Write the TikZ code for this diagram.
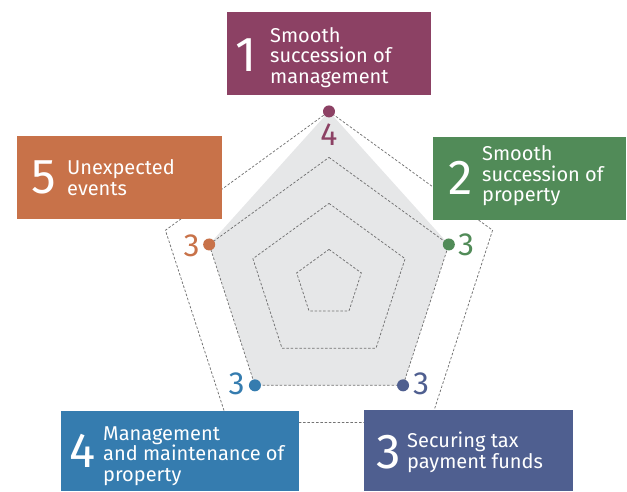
\documentclass[tikz,border=0pt]{standalone}
\usepackage{fontspec}
\setmainfont{Fira Sans}
\usetikzlibrary{calc}
\definecolor{cA}{HTML}{8C4164}
\definecolor{cB}{HTML}{518B58}
\definecolor{cC}{HTML}{4F5F90}
\definecolor{cD}{HTML}{357CAF}
\definecolor{cE}{HTML}{C87249}
\definecolor{web}{HTML}{E6E7E8}
\begin{document}
\begin{tikzpicture}[x=1pt,y=-1pt,
  grid/.style={draw=black!55, line width=0.75pt, dash pattern=on 2.5pt off 1.8pt},
  dot/.style={circle, inner sep=0pt, minimum size=12pt},
  bignum/.style={text=white, font=\fontsize{49}{49}\selectfont, inner sep=0pt},
  lbl/.style={text=white, font=\fontsize{20}{20.3}\selectfont, align=left, inner sep=0pt, anchor=base west},
  score/.style={font=\fontsize{32}{32}\selectfont, inner sep=0pt}]
\useasboundingbox (0,0) rectangle (627,491);
\coordinate (C) at (329,283.4);
% data point positions
\coordinate (q1) at ($(C)+(-90:172)$);
\coordinate (q2) at ($(C)+(-18:126)$);
\coordinate (q3) at ($(C)+(54:126)$);
\coordinate (q4) at ($(C)+(126:126)$);
\coordinate (q5) at ($(C)+(198:126)$);
\fill[web] (q1) -- (q2) -- (q3) -- (q4) -- (q5) -- cycle;
\foreach \r in {34,80,126,172}
  \draw[grid] ($(C)+(-90:\r)$) -- ($(C)+(-18:\r)$) -- ($(C)+(54:\r)$) -- ($(C)+(126:\r)$) -- ($(C)+(198:\r)$) -- cycle;
% dots
\node[dot, fill=cA] (p1) at (q1) {};
\node[dot, fill=cB] (p2) at (q2) {};
\node[dot, fill=cC] (p3) at (q3) {};
\node[dot, fill=cD] (p4) at (q4) {};
\node[dot, fill=cE] (p5) at (q5) {};
% boxes
\fill[cA] (227,12) rectangle (431,95);
\fill[cB] (433,137) rectangle (626,220);
\fill[cC] (364,410) rectangle (573,491);
\fill[cD] (61,411) rectangle (299,491);
\fill[cE] (17,136) rectangle (222,219);
% box texts
\node[bignum] (n1) at (246.5,55.5) {1};
\node[lbl] (t1) at (270,83) {Smooth\\succession of\\management};
\node[bignum] (n2) at (461,177.5) {2};
\node[lbl] (t2) at (482,201.5) {Smooth\\succession of\\property};
\node[bignum] (n3) at (388.5,452) {3};
\node[lbl] (t3) at (407,468) {Securing tax\\payment funds};
\node[bignum] (n4) at (82.5,450.5) {4};
\node[lbl] (t4) at (103,481) {Management\\and maintenance of\\property};
\node[bignum] (n5) at (44,177) {5};
\node[lbl] (t5) at (67,195) {Unexpected\\events};
% scores
\node[score, text=cA] (s1) at (329,135) {4};
\node[score, text=cB] (s2) at (466,245) {3};
\node[score, text=cC] (s3) at (421,384) {3};
\node[score, text=cD] (s4) at (236.5,384) {3};
\node[score, text=cE] (s5) at (191.5,246) {3};
\end{tikzpicture}
\end{document}
